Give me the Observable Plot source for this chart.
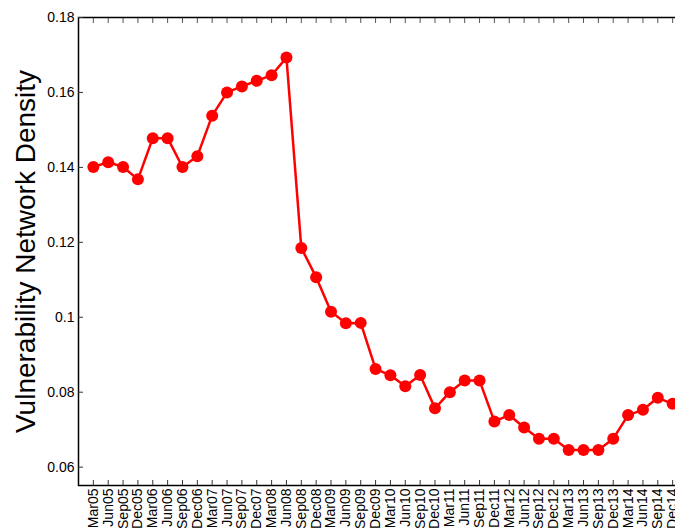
<!DOCTYPE html>
<html>
<head>
<meta charset="utf-8">
<script src="https://cdn.jsdelivr.net/npm/d3@7"></script>
<script src="https://cdn.jsdelivr.net/npm/@observablehq/plot@0.6"></script>
<style>
  html, body { margin: 0; padding: 0; background: #fff; overflow: hidden; }
  #chart { width: 675px; height: 528px; overflow: hidden; }
  #chart svg { max-width: none !important; }
</style>
</head>
<body>
<div id="chart"></div>
<script>
// Quarterly vulnerability network density, Mar05 .. Dec14
const quarters = [
  "Mar05","Jun05","Sep05","Dec05","Mar06","Jun06","Sep06","Dec06",
  "Mar07","Jun07","Sep07","Dec07","Mar08","Jun08","Sep08","Dec08",
  "Mar09","Jun09","Sep09","Dec09","Mar10","Jun10","Sep10","Dec10",
  "Mar11","Jun11","Sep11","Dec11","Mar12","Jun12","Sep12","Dec12",
  "Mar13","Jun13","Sep13","Dec13","Mar14","Jun14","Sep14","Dec14"
];
const density = [
  0.1401, 0.1414, 0.1401, 0.1368, 0.1478, 0.1478, 0.1401, 0.1430,
  0.1538, 0.1600, 0.1616, 0.1631, 0.1646, 0.1693, 0.1185, 0.1107,
  0.1015, 0.0984, 0.0985, 0.0862, 0.0845, 0.0816, 0.0846, 0.0757,
  0.0800, 0.0831, 0.0831, 0.0722, 0.0739, 0.0706, 0.0676, 0.0676,
  0.0646, 0.0646, 0.0646, 0.0676, 0.0739, 0.0753, 0.0785, 0.0769
];
const yTicks = [0.06, 0.08, 0.1, 0.12, 0.14, 0.16, 0.18];
const yLabel = "Vulnerability Network Density";

const data = quarters.map((q, i) => ({quarter: q, value: density[i]}));
const fmt = d => String(+d.toFixed(2));

const plot = Plot.plot({
  width: 690,
  height: 528,
  marginLeft: 78,
  marginRight: 3,
  marginTop: 17,
  marginBottom: 43,
  style: {fontFamily: "'Liberation Sans', Arial, sans-serif", fontSize: "14px", color: "#000", background: "#fff", maxWidth: "none"},
  x: {type: "point", domain: quarters, padding: 1, label: null},
  y: {domain: [0.0551, 0.18], label: null},
  marks: [
    Plot.frame({stroke: "#000", strokeWidth: 1.5}),
    // inward ticks on all sides, labels left and bottom
    Plot.axisY(yTicks, {anchor: "left", label: null, tickSize: -5, tickPadding: 9, tickFormat: fmt, fontSize: 14, stroke: "#333"}),
    Plot.axisX(quarters, {anchor: "bottom", label: null, tickSize: -5, tickPadding: 8, tickRotate: -90, fontSize: 14, stroke: "#333"}),
    Plot.axisX(quarters, {anchor: "top", label: null, tickSize: -5, tickFormat: () => "", stroke: "#555"}),
    Plot.text([yLabel], {frameAnchor: "left", textAnchor: "middle", text: d => d, rotate: -90, dx: -52, fontSize: 28, fill: "#000"}),
    Plot.line(data, {x: "quarter", y: "value", stroke: "#ff0000", strokeWidth: 2.5}),
    Plot.dot(data, {x: "quarter", y: "value", r: 6, fill: "#ff0000", stroke: "none"})
  ]
});
document.getElementById("chart").appendChild(plot);
</script>
</body>
</html>
